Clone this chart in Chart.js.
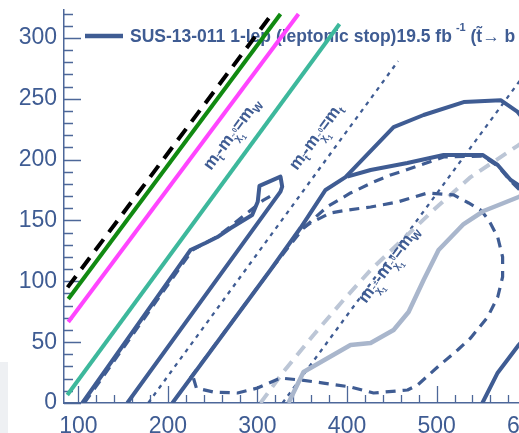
<!DOCTYPE html>
<html>
<head>
<meta charset="utf-8">
<script src="https://cdn.jsdelivr.net/npm/chart.js@4.4.1/dist/chart.umd.min.js"></script>
<style>
  html, body { margin: 0; padding: 0; overflow: hidden; background: #fff; }
  #wrap { width: 580px; height: 433px; }
</style>
</head>
<body>
<div id="wrap"><canvas id="limitChart" width="580" height="433"></canvas></div>
<script>
// axis ticks
const xTicks = [100, 200, 300, 400, 500, 600];
const yTicks = [0, 50, 100, 150, 200, 250, 300];

// reference lines (m_stop vs m_LSP)
const blackDashed = [[88, 95], [317, 320.5]];
const greenLine = [[88.8, 85.5], [325.7, 319.7]];
const magentaLine = [[88.8, 66.6], [345.8, 319.7]];
const tealLine = [[87.7, 6.6], [391.6, 311.5]];
const dottedTop = [[178, 0], [457, 281]];
const dottedW = [[328, 0], [650, 322]];

// SUS-13-011 contours
const obsLeft = [[104.5, 0], [225.1, 125.7], [241.9, 131.5], [255.3, 136.4], [269.8, 143.6],
  [294.1, 154.5], [300.3, 165.4], [302.2, 178.4], [325.7, 186], [327.6, 177.8],
  [325.7, 173.7], [154.7, 0]];
const expLeft = [[106.7, 0], [227.4, 125.7], [256.4, 137.3], [290, 157], [306.7, 166.8], [316.8, 171]];
const obsUpper = [[205, 0], [314.5, 109.3], [348, 143.8], [376, 175.1], [398.3, 185.7],
  [452, 226.8], [485.5, 236.7], [530.2, 247.3], [571.5, 248.9], [590.5, 239.2], [616, 216]];
const obsLower = [[400.2, 186], [426.3, 191.5], [467.3, 197.3], [507.8, 203.8], [551.4, 203.8],
  [568.2, 195.6], [582.7, 183.3], [592.7, 178.4], [610.6, 170]];
const obsCorner = [[551.1, 0], [567.8, 24.4], [579, 35.3], [591.6, 47.7], [616, 68]];
const expLoop = [[225.1, 20.5], [314.5, 109.3], [351.4, 143.8], [359.2, 147.9], [381.6, 156.2],
  [400.6, 158.6], [426.3, 161.1], [456.4, 165.2], [489.9, 172.6], [519, 171], [535.8, 164.4],
  [549.2, 158.6], [558.1, 150.4], [568.2, 136.4], [573.7, 120], [573.7, 103.6], [568.2, 87.1],
  [557, 70.7], [538, 53.4], [523.5, 43.6], [501.1, 29.6], [478.8, 14.8], [467.6, 10.7],
  [429.6, 8.2], [403.9, 13.2], [373.7, 16.4], [348, 18.9], [325.7, 20.5], [300, 12.3],
  [277.7, 8.2], [250.8, 9], [231.8, 12.3], [228.5, 20.5], [225.1, 20.5]];
const expUpper = [[351.4, 143.8], [378.2, 161.5], [403.9, 172.6], [429.6, 181.6], [448.6, 187.4],
  [459.8, 189.9], [507.8, 202.2], [551.4, 203], [568.2, 194.8], [582.7, 182.5], [592.7, 175.1], [605, 167]];
const lightSolid = [[334.6, 0], [351.4, 25.5], [403.9, 47.7], [426.3, 49.3], [452, 60], [468.7, 74.8],
  [485.5, 101.1], [502.2, 125.7], [530.2, 147.1], [552.5, 157.8], [574.9, 164.4], [591.6, 169.3], [616, 175]];
const lightDashed = [[303.4, 0], [327.9, 24.6], [362.6, 55.9], [396.1, 84.7], [426.3, 109.3],
  [496.6, 158.6], [538, 185.7], [591.6, 212], [621.8, 226]];

const blue = '#3f5c93';
const fontFam = '"Liberation Sans", Arial, Helvetica, sans-serif';

function line(points, color, width, dash) {
    return {
        data: points.map(p => ({ x: p[0], y: p[1] })),
        showLine: true,
        borderColor: color,
        borderWidth: width,
        borderDash: dash || [],
        borderJoinStyle: 'round',
        pointRadius: 0,
        fill: false,
        tension: 0
    };
}

function drawRich(ctx, x, y, angle, runs) {
    ctx.save();
    ctx.translate(x, y);
    ctx.rotate(angle);
    ctx.textBaseline = 'alphabetic';
    let cx = 0;
    runs.forEach(r => {
        ctx.font = 'bold ' + r[1] + 'px ' + fontFam;
        ctx.fillText(r[0], cx, r[2]);
        if (!r[3]) cx += ctx.measureText(r[0]).width;
    });
    ctx.restore();
}

const decorations = {
    id: 'decorations',
    beforeDatasetsDraw(chart) {
        const ctx = chart.ctx;
        const xs = chart.scales.x, ys = chart.scales.y;
        const left = chart.chartArea.left, bottom = chart.chartArea.bottom;

        // faint grey patch at the bottom left edge
        ctx.fillStyle = '#eef0f3';
        ctx.fillRect(0, 362, 8, 71);

        // inner ticks
        ctx.save();
        ctx.strokeStyle = '#4d6799';
        ctx.lineWidth = 1.3;
        ctx.beginPath();
        for (let v = 0; v <= 320; v += 10) {
            const py = Math.round(ys.getPixelForValue(v)) + 0.5;
            const len = v % 50 === 0 ? 17 : 9;
            ctx.moveTo(left, py);
            ctx.lineTo(left + len, py);
        }
        for (let v = 100; v <= 640; v += 20) {
            const px = Math.round(xs.getPixelForValue(v)) + 0.5;
            const len = v % 100 === 0 ? 17 : 8;
            ctx.moveTo(px, bottom);
            ctx.lineTo(px, bottom - len);
        }
        ctx.stroke();
        ctx.restore();

        // legend entry
        ctx.save();
        ctx.strokeStyle = blue;
        ctx.lineWidth = 4.5;
        ctx.beginPath();
        ctx.moveTo(85, 36);
        ctx.lineTo(123, 36);
        ctx.stroke();
        ctx.fillStyle = blue;
        ctx.font = 'bold 17.5px ' + fontFam;
        const main = 'SUS-13-011 1-lep (leptonic stop)19.5 fb';
        ctx.fillText(main, 130, 42);
        let cx = 130 + ctx.measureText(main).width + 4;
        ctx.font = 'bold 11px ' + fontFam;
        ctx.fillText('-1', cx, 31);
        cx += ctx.measureText('-1').width;
        ctx.font = 'bold 17.5px ' + fontFam;
        ctx.fillText(' (t\u0303\u2192 b \u03c7\u0303', cx, 42);
        ctx.restore();
    },
    afterDatasetsDraw(chart) {
        const ctx = chart.ctx;
        const xs = chart.scales.x, ys = chart.scales.y;
        const dx = xs.getPixelForValue(200) - xs.getPixelForValue(100);
        const dy = ys.getPixelForValue(100) - ys.getPixelForValue(0);
        const angle = Math.atan2(dy, dx);
        ctx.fillStyle = blue;
        drawRich(ctx, 211, 171, angle, [
            ['m', 17, 0], ['t\u0303', 10, 4], ['-m', 17, 0], ['\u03c7\u0303', 10, 5],
            ['0', 7, -3, true], ['1', 7, 9], ['=m', 17, 0], ['W', 11, 4]
        ]);
        drawRich(ctx, 297, 171, angle, [
            ['m', 17, 0], ['t\u0303', 10, 4], ['-m', 17, 0], ['\u03c7\u0303', 10, 5],
            ['0', 7, -3, true], ['1', 7, 9], ['=m', 17, 0], ['t', 11, 4]
        ]);
        drawRich(ctx, 366, 304, angle, [
            ['m', 17, 0], ['\u03c7\u0303', 10, 5], ['\u00b1', 7, -3, true], ['1', 7, 9],
            ['-m', 17, 0], ['\u03c7\u0303', 10, 5], ['0', 7, -3, true], ['1', 7, 9],
            ['=m', 17, 0], ['W', 11, 4]
        ]);
    }
};

const ctx = document.getElementById('limitChart').getContext('2d');

new Chart(ctx, {
    type: 'scatter',
    data: {
        datasets: [
            line(blackDashed, '#000000', 4, [14, 9]),
            line(greenLine, '#118a11', 4),
            line(magentaLine, '#ff45ff', 4),
            line(tealLine, '#3db89c', 4),
            line(obsLeft, blue, 4),
            line(obsUpper, blue, 4),
            line(obsLower, blue, 4),
            line(obsCorner, blue, 4),
            line(lightSolid, '#a9b6cc', 4.5),
            line(expLeft, blue, 3.2, [10, 7]),
            line(expLoop, blue, 3.2, [10, 7]),
            line(expUpper, blue, 3.2, [10, 7]),
            line(lightDashed, '#bcc6d6', 4, [12, 8]),
            line(dottedTop, blue, 2.3, [4, 5]),
            line(dottedW, blue, 2.3, [4, 5])
        ]
    },
    options: {
        responsive: false,
        animation: false,
        layout: {
            padding: { top: 10, right: 18, left: 0, bottom: 0 }
        },
        plugins: {
            legend: { display: false },
            tooltip: { enabled: false }
        },
        scales: {
            x: {
                type: 'linear',
                min: 84,
                max: 640,
                afterBuildTicks: function (scale) {
                    scale.ticks = xTicks.map(v => ({ value: v }));
                },
                afterFit: function (scale) {
                    scale.height = 30;
                    scale.paddingLeft = 0;
                    scale.paddingRight = 0;
                },
                grid: { display: false, drawTicks: false },
                border: { color: '#4d6799', width: 1.5 },
                ticks: {
                    color: blue,
                    autoSkip: false,
                    maxRotation: 0,
                    padding: 10,
                    font: { size: 23, family: fontFam }
                }
            },
            y: {
                type: 'linear',
                min: 0,
                max: 323,
                afterBuildTicks: function (scale) {
                    scale.ticks = yTicks.map(v => ({ value: v }));
                },
                afterFit: function (scale) {
                    scale.width = 64;
                    scale.paddingTop = 0;
                    scale.paddingBottom = 0;
                },
                grid: { display: false, drawTicks: false },
                border: { color: '#4d6799', width: 1.5 },
                ticks: {
                    color: blue,
                    autoSkip: false,
                    padding: 7,
                    font: { size: 23, family: fontFam }
                }
            }
        }
    },
    plugins: [decorations]
});
</script>
</body>
</html>
